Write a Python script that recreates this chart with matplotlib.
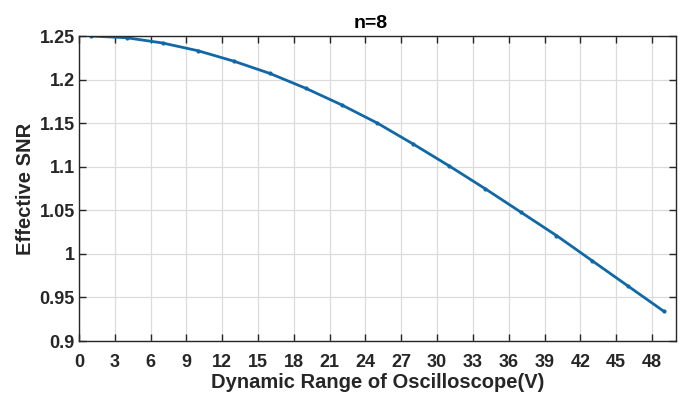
import numpy as np
import matplotlib.pyplot as plt

plt.rcParams['font.family'] = ['Liberation Sans', 'DejaVu Sans']
plt.rcParams['font.weight'] = 'bold'

# Effective SNR against oscilloscope dynamic range, n=8
dynamic_range = [1, 4, 7, 10, 13, 16, 19, 22, 25, 28, 31, 34, 37, 40, 43, 46, 49]
effective_snr = [1.250, 1.248, 1.242, 1.233, 1.221, 1.207, 1.190, 1.171, 1.150,
                 1.126, 1.101, 1.075, 1.048, 1.021, 0.992, 0.963, 0.934]

fig = plt.figure(figsize=(6.82, 3.94), dpi=100)
ax = fig.add_axes([0.1158, 0.1345, 0.8752, 0.7741])

ax.plot(dynamic_range, effective_snr, color='#1069a6', linewidth=2,
        marker='.', markersize=4)

ax.set_xlim(0, 50)
ax.set_ylim(0.9, 1.25)
ax.set_xticks(np.arange(0, 49, 3))
ax.set_yticks([0.9, 0.95, 1, 1.05, 1.1, 1.15, 1.2, 1.25])
ax.set_yticklabels(['0.9', '0.95', '1', '1.05', '1.1', '1.15', '1.2', '1.25'])
ax.tick_params(direction='in', length=5, width=1, labelsize=13, colors='#262626',
               top=True, right=True)
ax.tick_params(axis='x', pad=9)
ax.tick_params(axis='y', pad=3)
for lbl in ax.get_xticklabels() + ax.get_yticklabels():
    lbl.set_fontweight('bold')
for s in ax.spines.values():
    s.set_color('#262626')
    s.set_linewidth(1)
ax.grid(True, color='#dcdcdc', linewidth=0.9)

ax.set_xlabel('Dynamic Range of Oscilloscope(V)', fontsize=14.5, fontweight='bold',
              color='#262626', labelpad=2)
ax.set_ylabel('Effective SNR', fontsize=14.5, fontweight='bold', color='#262626',
              labelpad=3)
ax.set_title('n=8', fontsize=14, fontweight='bold', pad=6, x=0.488)

fig.savefig('out.png', dpi=100)
